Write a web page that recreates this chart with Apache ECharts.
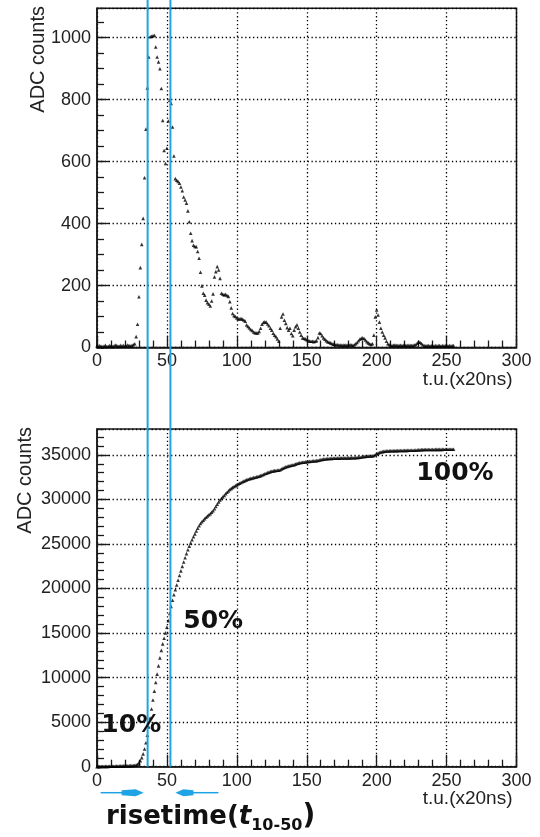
<!DOCTYPE html>
<html>
<head>
<meta charset="utf-8">
<script src="https://cdn.jsdelivr.net/npm/echarts@6/dist/echarts.min.js"></script>
<style>
  html, body { margin: 0; padding: 0; background: #fff; }
  #chart { width: 540px; height: 837px; }
</style>
</head>
<body>
<div id="chart"></div>
<script>
// Pulse waveform: ADC counts per time unit (1 t.u. = 20 ns), bins 0..255
const pulseCounts = [
  5, 3, 6, 4, 2, 5, 7, 3, 4, 6, 5, 3, 4, 8, 6, 5, 4, 7, 5, 6,
  4, 5, 8, 6, 5, 7, 9, 12, 35, 75, 164, 258, 333, 417, 548, 705, 838, 938, 1003, 1005,
  1006, 1008, 970, 938, 922, 900, 836, 733, 636, 594, 643, 731, 798, 788, 712, 618, 545, 540, 536, 530,
  518, 506, 486, 476, 466, 441, 406, 369, 345, 330, 326, 325, 310, 288, 243, 199, 175, 169, 153, 145,
  140, 134, 150, 173, 228, 245, 261, 250, 223, 175, 172, 170, 172, 168, 165, 148, 128, 110, 103, 100,
  95, 93, 92, 94, 91, 89, 85, 73, 68, 63, 58, 55, 50, 48, 47, 47, 52, 62, 75, 81,
  83, 82, 76, 70, 62, 56, 46, 40, 35, 28, 20, 62, 99, 108, 88, 78, 64, 56, 62, 45,
  38, 56, 67, 73, 62, 50, 40, 31, 30, 28, 25, 22, 21, 20, 20, 19, 20, 22, 32, 47,
  45, 38, 31, 27, 22, 19, 17, 15, 13, 11, 10, 9, 9, 8, 8, 7, 8, 7, 8, 7,
  8, 9, 8, 7, 9, 12, 16, 22, 27, 30, 31, 29, 24, 19, 15, 12, 10, 12, 40, 99,
  121, 105, 82, 62, 50, 40, 31, 20, 12, 9, 7, 6, 7, 8, 7, 6, 7, 7, 6, 7,
  8, 7, 6, 7, 7, 6, 7, 8, 9, 14, 18, 17, 13, 9, 6, 5, 6, 6, 5, 6,
  6, 5, 6, 5, 6, 6, 5, 6, 5, 6, 6, 5, 6, 5, 6, 6
];

// Running integral of the pulse (ADC counts), bins 0..255
const integralCounts = [
  5, 8, 14, 18, 20, 25, 32, 35, 39, 45, 50, 53, 57, 65, 71, 76, 80, 87, 92, 98,
  102, 107, 115, 121, 126, 133, 142, 154, 189, 264, 428, 686, 1019, 1436, 1984, 2689, 3527, 4465, 5468, 6473,
  7479, 8487, 9457, 10395, 11317, 12217, 13053, 13786, 14422, 15016, 15659, 16390, 17188, 17976, 18688, 19306, 19851, 20391, 20927, 21457,
  21975, 22481, 22967, 23443, 23909, 24350, 24756, 25125, 25470, 25800, 26126, 26451, 26761, 27049, 27292, 27491, 27666, 27835, 27988, 28133,
  28273, 28407, 28557, 28730, 28958, 29203, 29464, 29714, 29937, 30112, 30284, 30454, 30626, 30794, 30959, 31107, 31235, 31345, 31448, 31548,
  31630, 31720, 31805, 31890, 31975, 32055, 32130, 32195, 32255, 32310, 32360, 32405, 32445, 32485, 32525, 32565, 32610, 32665, 32730, 32800,
  32870, 32940, 33005, 33065, 33115, 33160, 33195, 33225, 33250, 33270, 33285, 33330, 33415, 33505, 33580, 33645, 33700, 33745, 33795, 33835,
  33865, 33905, 33960, 34020, 34070, 34110, 34140, 34165, 34188, 34210, 34230, 34250, 34268, 34285, 34302, 34318, 34334, 34352, 34378, 34418,
  34456, 34488, 34514, 34536, 34554, 34569, 34582, 34593, 34603, 34611, 34618, 34622, 34626, 34630, 34634, 34638, 34642, 34646, 34650, 34654,
  34658, 34662, 34666, 34670, 34675, 34684, 34697, 34715, 34737, 34762, 34788, 34812, 34832, 34848, 34860, 34870, 34878, 34888, 34921, 35004,
  35105, 35193, 35262, 35314, 35356, 35390, 35416, 35433, 35443, 35450, 35455, 35460, 35465, 35469, 35473, 35477, 35481, 35485, 35489, 35493,
  35497, 35500, 35504, 35507, 35511, 35514, 35518, 35521, 35528, 35540, 35555, 35569, 35580, 35587, 35592, 35594, 35596, 35598, 35600, 35602,
  35604, 35606, 35608, 35610, 35612, 35614, 35616, 35618, 35620, 35622, 35624, 35626, 35628, 35630, 35632, 35634
];

// Times (t.u.) where the integral crosses 10% and 50% of its final value
const riseMarks = [36.2, 52.5];
const levelLabels = ['10%', '50%', '100%'];
const axisTitleX = 't.u.(x20ns)';
const axisTitleY = 'ADC counts';
const riseTitle = ['risetime(', 't', '10-50', ')'];

const tickFont = 'Liberation Sans, Arial, Helvetica, sans-serif';
const boldFont = 'DejaVu Sans, Verdana, sans-serif';
const ink = '#1a1a1a';
const blue = '#1ea3e4';

const chart = echarts.init(document.getElementById('chart'), null, { renderer: 'canvas' });

const gridTop = { left: 97, right: 23.5, top: 8.3, bottom: 489.5, show: true, borderColor: ink, borderWidth: 1.5, backgroundColor: '#fff' };
const gridBottom = { left: 97, right: 23.5, top: 429, bottom: 70.3, show: true, borderColor: ink, borderWidth: 1.5, backgroundColor: '#fff' };

function xAxisFor(gridIndex) {
  return {
    type: 'value', gridIndex, min: 0, max: 300, interval: 50,
    axisLine: { show: true, onZero: false, lineStyle: { color: ink, width: 1.5 } },
    axisTick: { show: true, inside: true, length: 12, lineStyle: { color: ink, width: 1.3 } },
    minorTick: { show: true, splitNumber: 5, length: 7, lineStyle: { color: ink, width: 1.3 } },
    axisLabel: { color: '#222', fontFamily: tickFont, fontSize: 18, margin: 5, formatter: v => String(v) },
    splitLine: { show: true, lineStyle: { color: '#000', width: 1.3, type: [1.3, 2.6] } },
    minorSplitLine: { show: false }
  };
}

function yMajor(gridIndex, max, interval) {
  return {
    type: 'value', gridIndex, min: 0, max, interval, position: 'left', offset: 0,
    axisLine: { show: true, onZero: false, lineStyle: { color: ink, width: 1.5 } },
    axisTick: { show: true, inside: true, length: 12, lineStyle: { color: ink, width: 1.3 } },
    axisLabel: { color: '#222', fontFamily: tickFont, fontSize: 18, margin: 6, showMaxLabel: false, formatter: v => String(v) },
    splitLine: { show: true, lineStyle: { color: '#000', width: 1.3, type: [1.3, 2.6] } }
  };
}

function yMinor(gridIndex, max, interval) {
  return {
    type: 'value', gridIndex, min: 0, max, interval, position: 'left', offset: 0,
    axisLine: { show: false },
    axisTick: { show: true, inside: true, length: 7, lineStyle: { color: ink, width: 1.3 } },
    axisLabel: { show: false },
    splitLine: { show: false }
  };
}

const pulseData = pulseCounts.map((v, i) => [i, v]);
const integralData = integralCounts.map((v, i) => [i, v]);

chart.setOption({
  animation: false,
  backgroundColor: '#fff',
  grid: [gridTop, gridBottom],
  xAxis: [xAxisFor(0), xAxisFor(1)],
  yAxis: [
    yMajor(0, 1095, 200), yMinor(0, 1095, 50),
    yMajor(1, 37900, 5000), yMinor(1, 37900, 1000)
  ],
  series: [
    {
      type: 'scatter', xAxisIndex: 0, yAxisIndex: 0, data: pulseData,
      symbol: 'triangle', symbolSize: 3.6, itemStyle: { color: '#000' }, silent: true
    },
    {
      type: 'scatter', xAxisIndex: 1, yAxisIndex: 2, data: integralData,
      symbol: 'triangle', symbolSize: 3.6, itemStyle: { color: '#000' }, silent: true
    }
  ]
});

// Overlay: rise-time markers, axis titles, level labels and the rise-time caption
const xAt = t => chart.convertToPixel({ xAxisIndex: 0 }, t);
const ptBottom = (x, y) => chart.convertToPixel({ xAxisIndex: 1, yAxisIndex: 2 }, [x, y]);
const axisBottomY = ptBottom(0, 0)[1];
const axisTopY = chart.convertToPixel({ xAxisIndex: 0, yAxisIndex: 0 }, [0, 0])[1];
const rightX = xAt(300);
const x10 = xAt(riseMarks[0]);
const x50 = xAt(riseMarks[1]);
const arrowY = axisBottomY + 26;

const elements = [];

riseMarks.forEach(t => {
  const x = xAt(t);
  elements.push({
    type: 'line', silent: true, z: 100,
    shape: { x1: x, y1: 0, x2: x, y2: axisBottomY },
    style: { stroke: blue, lineWidth: 2 }
  });
});

// arrows pointing in to the rise window
elements.push(
  { type: 'line', silent: true, shape: { x1: x10 - 47, y1: arrowY, x2: x10 - 20, y2: arrowY }, style: { stroke: blue, lineWidth: 1.5 } },
  { type: 'polygon', silent: true, shape: { points: [[x10 - 26, arrowY - 2.5], [x10 - 12, arrowY - 3.5], [x10 - 4, arrowY], [x10 - 12, arrowY + 3.5], [x10 - 26, arrowY + 2.5]] }, style: { fill: blue } },
  { type: 'line', silent: true, shape: { x1: x50 + 20, y1: arrowY, x2: x50 + 48, y2: arrowY }, style: { stroke: blue, lineWidth: 1.5 } },
  { type: 'polygon', silent: true, shape: { points: [[x50 + 23, arrowY - 2.5], [x50 + 13, arrowY - 3.5], [x50 + 5, arrowY], [x50 + 13, arrowY + 3.5], [x50 + 23, arrowY + 2.5]] }, style: { fill: blue } }
);

// axis titles
[axisTopY, axisBottomY].forEach(y0 => {
  elements.push({
    type: 'text', silent: true, x: rightX - 4, y: y0 + 32,
    style: { text: axisTitleX, fill: '#222', font: '19px ' + tickFont, align: 'right', verticalAlign: 'middle' }
  });
});
[[38, 6], [25, 427]].forEach(([x, y]) => {
  elements.push({
    type: 'text', silent: true, x, y, rotation: Math.PI / 2,
    style: { text: axisTitleY, fill: '#222', font: '20px ' + tickFont, align: 'right', verticalAlign: 'middle' }
  });
});

// level labels on the integral
const labelAnchors = [[24.5, 4573], [83.1, 16258], [256, 32888]];
levelLabels.forEach((txt, i) => {
  const p = ptBottom(labelAnchors[i][0], labelAnchors[i][1]);
  elements.push({
    type: 'text', silent: true, z: 120, x: p[0], y: p[1],
    style: { text: txt, fill: '#111', font: 'bold 25px ' + boldFont, align: 'center', verticalAlign: 'middle' }
  });
});

// caption
elements.push({
  type: 'text', silent: true, x: 106, y: 800,
  style: {
    text: '{r|' + riseTitle[0] + '}{t|' + riseTitle[1] + '}{s|' + riseTitle[2] + '}{p|' + riseTitle[3] + '}',
    fill: '#111',
    align: 'left', verticalAlign: 'top',
    rich: {
      r: { fontFamily: boldFont, fontWeight: 'bold', fontSize: 26, lineHeight: 34, verticalAlign: 'middle', fill: '#111' },
      t: { fontFamily: boldFont, fontWeight: 'bold', fontStyle: 'italic', fontSize: 26, lineHeight: 34, verticalAlign: 'middle', fill: '#111' },
      s: { fontFamily: boldFont, fontWeight: 'bold', fontSize: 16, lineHeight: 18, verticalAlign: 'bottom', fill: '#111' },
      p: { fontFamily: boldFont, fontWeight: 'bold', fontSize: 28, lineHeight: 34, verticalAlign: 'middle', fill: '#111' }
    }
  }
});

chart.setOption({ graphic: { elements } });
</script>
</body>
</html>
